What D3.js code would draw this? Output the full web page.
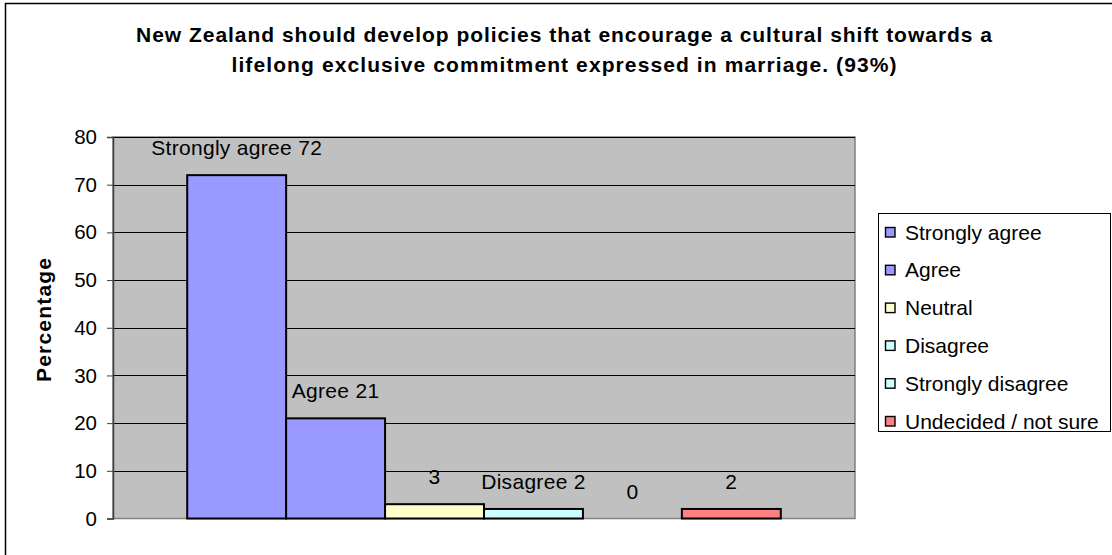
<!DOCTYPE html>
<html>
<head>
<meta charset="utf-8">
<script src="https://cdn.jsdelivr.net/npm/d3@7"></script>
<style>
  html, body { margin: 0; padding: 0; background: #fff; }
  svg { display: block; font-family: "Liberation Sans", Arial, sans-serif; }
</style>
</head>
<body>
<svg id="chart" width="1112" height="555"></svg>
<script>
const titleLines = [
  "New Zealand should develop policies that encourage a cultural shift towards a",
  "lifelong exclusive commitment expressed in marriage. (93%)"
];
const series = ["Strongly agree", "Agree", "Neutral", "Disagree", "Strongly disagree", "Undecided / not sure"];
const values = [72, 21, 3, 2, 0, 2];
const dataLabels = ["Strongly agree 72", "Agree 21", "3", "Disagree 2", "0", "2"];
const colors = ["#9999FF", "#9999FF", "#FFFFCC", "#CCFFFF", "#CCFFFF", "#FF8080"];
const yTicks = [0, 10, 20, 30, 40, 50, 60, 70, 80];
const yLabel = "Percentage";

const svg = d3.select("#chart");
const plot = { left: 113, right: 855, top: 137, bottom: 518.5 };

// outer border
svg.append("rect").attr("x", 5.5).attr("y", 3.5).attr("width", 1130).attr("height", 570)
  .attr("fill", "#fff").attr("stroke", "#000").attr("stroke-width", 1.5);

// title
const titleWidths = [856, 665];
svg.append("g").selectAll("text").data(titleLines).join("text")
  .attr("x", 564).attr("y", (d, i) => 42 + i * 29.5)
  .attr("text-anchor", "middle").attr("font-weight", "bold").attr("font-size", 21)
  .attr("textLength", (d, i) => titleWidths[i]).attr("lengthAdjust", "spacing")
  .attr("fill", "#000").text(d => d);

const y = d3.scaleLinear().domain([0, 80]).range([plot.bottom, plot.top]);
const x0 = d3.scaleBand().domain(["q"]).range([plot.left, plot.right]).paddingOuter(0.125).paddingInner(0);
const x1 = d3.scaleBand().domain(series).range([0, x0.bandwidth()]);

// plot background
svg.append("rect").attr("x", plot.left).attr("y", plot.top)
  .attr("width", plot.right - plot.left).attr("height", plot.bottom - plot.top)
  .attr("fill", "#C0C0C0").attr("stroke", "#808080").attr("stroke-width", 1.5);

// gridlines
svg.append("g").selectAll("line").data(yTicks.filter(t => t > 0)).join("line")
  .attr("x1", plot.left).attr("x2", plot.right)
  .attr("y1", d => Math.round(y(d)) + 0.5).attr("y2", d => Math.round(y(d)) + 0.5)
  .attr("stroke", "#000").attr("stroke-width", 1);

// bars
const g = svg.append("g").attr("transform", `translate(${x0("q")},0)`);
g.selectAll("rect").data(values).join("rect")
  .attr("x", (d, i) => x1(series[i]))
  .attr("y", d => y(d))
  .attr("width", x1.bandwidth())
  .attr("height", d => y(0) - y(d))
  .attr("fill", (d, i) => colors[i])
  .attr("stroke", "#000").attr("stroke-width", 2)
  .attr("display", d => d === 0 ? "none" : null);

// data labels
g.selectAll("text").data(values).join("text")
  .attr("x", (d, i) => x1(series[i]) + x1.bandwidth() / 2)
  .attr("y", d => y(d) - 20)
  .attr("text-anchor", "middle").attr("font-size", 21).attr("letter-spacing", 0.3).attr("fill", "#000")
  .text((d, i) => dataLabels[i]);

// y axis
const yAxis = svg.append("g").attr("transform", `translate(${plot.left},0)`)
  .call(d3.axisLeft(y).tickValues(yTicks).tickSize(6).tickPadding(10));
yAxis.select(".domain").attr("stroke", "#404040").attr("stroke-width", 1.5);
yAxis.selectAll(".tick line").attr("stroke", "#404040").attr("stroke-width", 1);
yAxis.selectAll(".tick text").attr("font-size", 20.5).attr("fill", "#000")
  .attr("font-family", "Liberation Sans, Arial, sans-serif");

// y label
svg.append("text").attr("transform", `translate(51,${320}) rotate(-90)`)
  .attr("text-anchor", "middle").attr("font-weight", "bold").attr("font-size", 21)
  .attr("textLength", 124).attr("lengthAdjust", "spacing")
  .text(yLabel);

// legend
const leg = svg.append("g");
leg.append("rect").attr("x", 878.5).attr("y", 213.5).attr("width", 232).attr("height", 218)
  .attr("fill", "#fff").attr("stroke", "#000").attr("stroke-width", 1);
const items = leg.selectAll("g.item").data(series).join("g").attr("class", "item")
  .attr("transform", (d, i) => `translate(0,${232 + i * 37.8})`);
items.append("rect").attr("x", 885.5).attr("y", -4.5).attr("width", 9.5).attr("height", 9.5)
  .attr("fill", (d, i) => colors[i]).attr("stroke", "#000").attr("stroke-width", 1.4);
items.append("text").attr("x", 905).attr("y", 7.5).attr("font-size", 21).attr("fill", "#000")
  .text(d => d);
</script>
</body>
</html>
